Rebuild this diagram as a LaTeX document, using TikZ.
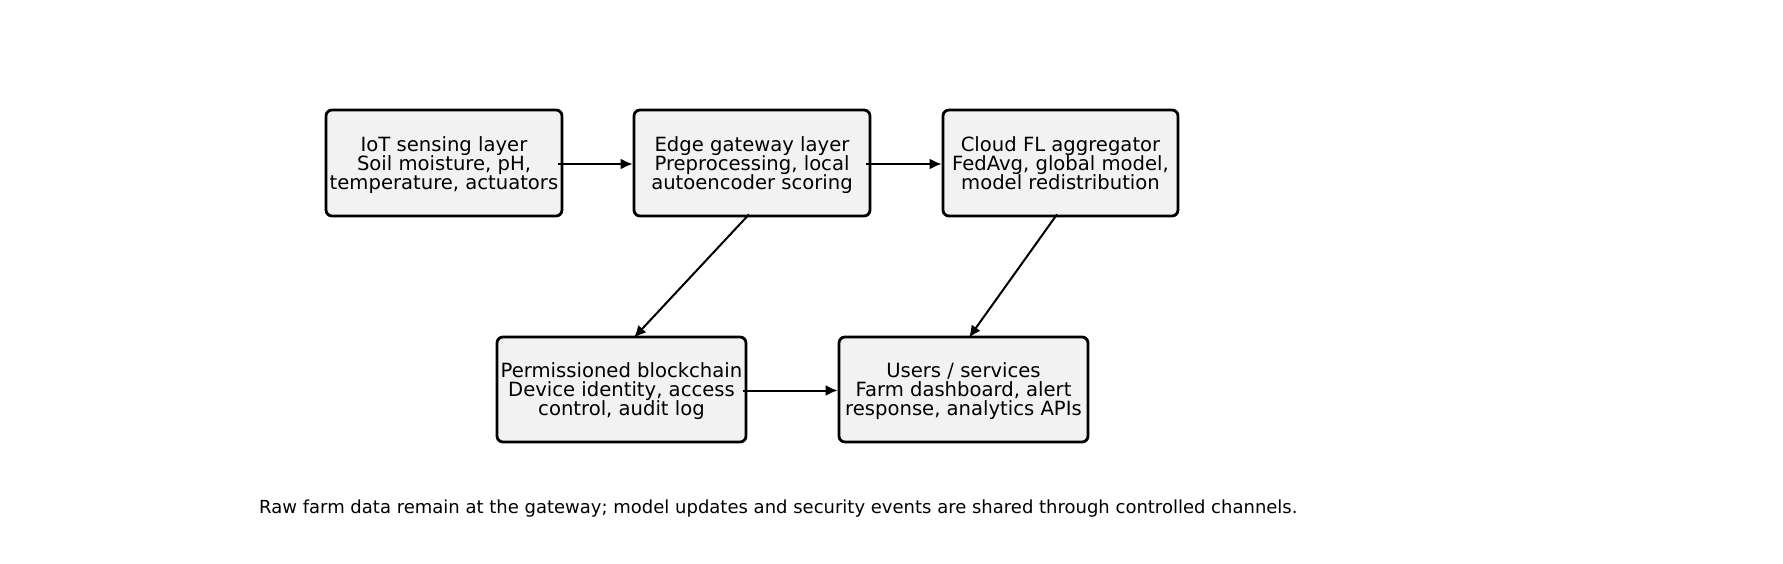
\documentclass[tikz,border=0pt]{standalone}
\usepackage{fontspec}
\setmainfont{DejaVu Sans}
\usetikzlibrary{calc,arrows.meta}
\definecolor{boxfill}{HTML}{F2F2F2}
\begin{document}
\begin{tikzpicture}[x=1pt,y=-1pt,
  layerbox/.style={draw=black,line width=2.8pt,rounded corners=6pt,fill=boxfill,
    align=center,inner sep=0pt,font=\fontsize{19.6}{19}\selectfont},
  flow/.style={line width=2pt,-{Latex[length=12pt,width=11pt]}}]
\useasboundingbox (0,0) rectangle (1783,564);
\node[layerbox,minimum width=236pt,minimum height=106pt] (b1) at (444,163)
  {IoT sensing layer\\Soil moisture, pH,\\\smash{temperature, actuators}};
\node[layerbox,minimum width=236pt,minimum height=106pt] (b2) at (752,163)
  {Edge gateway layer\\Preprocessing, local\\\smash{autoencoder scoring}};
\node[layerbox,minimum width=235pt,minimum height=106pt] (b3) at (1060.5,163)
  {Cloud FL aggregator\\FedAvg, global model,\\\smash{model redistribution}};
\node[layerbox,minimum width=249pt,minimum height=105pt] (b4) at (621.5,389.5)
  {Permissioned blockchain\\Device identity, access\\\smash{control, audit log}};
\node[layerbox,minimum width=249pt,minimum height=105pt] (b5) at (963.5,389.5)
  {Users / services\\Farm dashboard, alert\\\smash{response, analytics APIs}};
\draw[flow] ($(b1.east)+(-5,1)$) -- ($(b2.west)+(0,1)$);
\draw[flow] ($(b2.east)+(-5,1)$) -- ($(b3.west)+(0,1)$);
\draw[flow] ($(b2.south)+(-3,-3)$) -- ($(b4.north)+(12.5,2)$);
\draw[flow] ($(b3.south)+(-3.5,-3)$) -- ($(b5.north)+(5.5,2)$);
\draw[flow] ($(b4.east)+(-4,1)$) -- ($(b5.west)+(0,1)$);
\node[anchor=west,inner sep=0pt,font=\fontsize{18}{20}\selectfont] (cap) at (259,509)
  {Raw farm data remain at the gateway; model updates and security events are shared through controlled channels.};
\end{tikzpicture}
\end{document}
